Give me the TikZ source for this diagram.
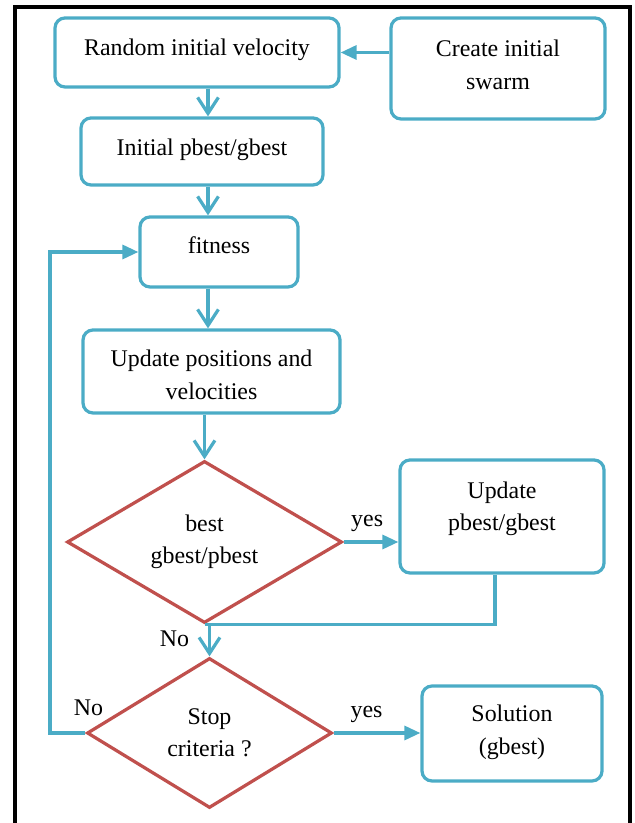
\documentclass[tikz,border=0pt]{standalone}
\usepackage{fontspec}
\setmainfont{Liberation Serif}
\usetikzlibrary{shapes.geometric, arrows.meta}

\definecolor{pblue}{HTML}{4BACC6}
\definecolor{pred}{HTML}{C0504D}

\tikzset{
  blk/.style={draw=pblue, line width=2.3pt, rounded corners=0.25cm, inner sep=0pt},
  dec/.style={draw=pred, line width=2.3pt, diamond, shape aspect=1.7, inner sep=0pt, align=center},
  txt/.style={align=center},
  conn/.style={draw=pblue, line width=2.3pt},
  down/.style={conn, -{Straight Barb[length=0.4cm, width=0.52cm]}},
  side/.style={conn, -{Triangle[length=0.4cm, width=0.35cm]}}
}

\begin{document}
\begin{tikzpicture}[font=\fontsize{17}{23}\selectfont]
          \useasboundingbox (0, 0) rectangle (15.875, 20.575);
          % frame, open at the bottom
          \draw[line width=2.4pt] (0.375, 0) -- (0.375, 20.4) -- (15.75, 20.4) -- (15.75, 0);

          \node[blk, minimum width=7.1cm, minimum height=1.725cm, label={[txt, yshift=0.07cm]center:Random initial velocity}] (rand) at (4.925, 19.2625) {};
          \node[blk, minimum width=5.35cm, minimum height=2.525cm, label={[txt, yshift=0.09cm]center:{Create initial\\swarm}}] (create) at (12.45, 18.8625) {};
          \node[blk, minimum width=6.05cm, minimum height=1.675cm, label={[txt, yshift=0.04cm]center:Initial pbest/gbest}] (init) at (5.05, 16.7875) {};
          \node[blk, minimum width=3.95cm, minimum height=1.75cm, label={[txt, yshift=0.17cm]center:fitness}] (fit) at (5.475, 14.275) {};
          \node[blk, minimum width=6.425cm, minimum height=2.075cm, label={[txt, yshift=-0.08cm]center:{Update positions and\\velocities}}] (upd) at (5.2875, 11.2875) {};
          \node[dec, minimum width=6.875cm, minimum height=4.05cm] (best) at (5.1125, 7.025) {best\\gbest/pbest};
          \node[blk, minimum width=5.1cm, minimum height=2.825cm, label={[txt, yshift=0.19cm]center:{Update\\pbest/gbest}}] (pupd) at (12.55, 7.6625) {};
          \node[dec, minimum width=6.125cm, minimum height=3.75cm] (stop) at (5.2375, 2.25) {Stop\\criteria ?};
          \node[blk, minimum width=4.5cm, minimum height=2.375cm, label={[txt, yshift=0.03cm]center:{Solution\\(gbest)}}] (sol) at (12.8, 2.2375) {};

          \coordinate (spine) at (5.2, 0);
          \coordinate (back) at (1.25, 0);

          \draw[side] (create.west |- rand.east) -- (rand.east);
          \draw[down] (rand.south -| spine) -- (init.north -| spine);
          \draw[down] (init.south -| spine) -- (fit.north -| spine);
          \draw[down] (fit.south -| spine) -- (upd.north -| spine);
          \draw[down] (upd.south -| best.north) -- (best.north);
          \draw[side] (best.east) -- (best.east -| pupd.west) node[pos=0.43, above=0.1cm, black] {yes};
          \draw[conn] ([xshift=-0.175cm]pupd.south) |- (best.south);
          \draw[down] (best.south -| stop.north) -- (stop.north) node[pos=0.45, left=0.35cm, black] {No};
          \draw[side] (stop.west) node[above=0.275cm, xshift=0.075cm, black] {No} -- (stop.west -| back) |- (fit.west);
          \draw[side] (stop.east) -- (stop.east -| sol.west) node[pos=0.38, above=0.1cm, black] {yes};
        \end{tikzpicture}
\end{document}
